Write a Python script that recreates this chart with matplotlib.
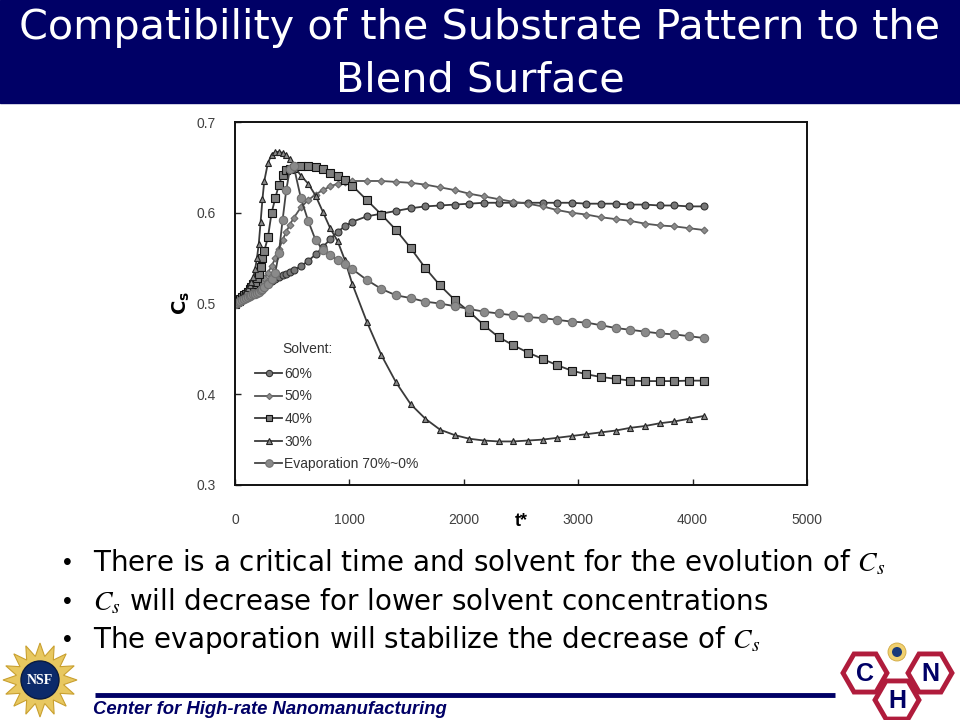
import numpy as np
import matplotlib
matplotlib.use("Agg")
import matplotlib.pyplot as plt
from matplotlib.patches import Rectangle, RegularPolygon, Circle, Polygon

plt.rcParams['font.family'] = ['Liberation Sans', 'DejaVu Sans']

# time axis (t*) shared by all series
t = [0, 16, 32, 48, 64, 80, 96, 112, 128, 144, 160, 176, 192, 208, 224, 240, 256,
     288, 320, 352, 384, 416, 448, 480, 512,
     576, 640, 704, 768, 832, 896, 960,
     1024, 1152, 1280, 1408, 1536, 1664, 1792, 1920, 2048, 2176, 2304, 2432, 2560,
     2688, 2816, 2944, 3072, 3200, 3328, 3456, 3584, 3712, 3840, 3968, 4096]

cs_60 = [0.500, 0.502, 0.504, 0.505, 0.507, 0.508, 0.510, 0.511, 0.512, 0.513, 0.514, 0.515, 0.517, 0.518, 0.519, 0.520, 0.521,
         0.523, 0.525, 0.527, 0.529, 0.531, 0.533, 0.535, 0.537,
         0.541, 0.547, 0.554, 0.562, 0.571, 0.579, 0.585,
         0.590, 0.596, 0.599, 0.602, 0.605, 0.607, 0.608, 0.609, 0.610, 0.611, 0.611, 0.611, 0.611,
         0.611, 0.611, 0.611, 0.610, 0.610, 0.610, 0.609, 0.609, 0.608, 0.608, 0.607, 0.607]

cs_50 = [0.500, 0.501, 0.503, 0.504, 0.505, 0.507, 0.508, 0.510, 0.511, 0.513, 0.515, 0.517, 0.519, 0.521, 0.523, 0.525, 0.528,
         0.534, 0.541, 0.550, 0.560, 0.570, 0.579, 0.587, 0.594,
         0.606, 0.614, 0.620, 0.625, 0.629, 0.632, 0.634,
         0.635, 0.635, 0.635, 0.634, 0.633, 0.631, 0.628, 0.625, 0.621, 0.618, 0.615, 0.612, 0.610,
         0.607, 0.603, 0.600, 0.598, 0.595, 0.593, 0.591, 0.588, 0.586, 0.585, 0.583, 0.581]

cs_40 = [0.500, 0.502, 0.503, 0.505, 0.507, 0.509, 0.511, 0.513, 0.516, 0.518, 0.521, 0.524, 0.528, 0.532, 0.540, 0.550, 0.558,
         0.573, 0.600, 0.616, 0.631, 0.642, 0.647, 0.648, 0.649,
         0.651, 0.651, 0.650, 0.648, 0.644, 0.640, 0.636,
         0.630, 0.614, 0.598, 0.581, 0.561, 0.539, 0.520, 0.504, 0.491, 0.476, 0.463, 0.454, 0.446,
         0.439, 0.432, 0.426, 0.422, 0.419, 0.417, 0.415, 0.4145, 0.4145, 0.4145, 0.415, 0.415]

cs_30 = [0.500, 0.502, 0.504, 0.506, 0.508, 0.511, 0.514, 0.517, 0.520, 0.524, 0.529, 0.538, 0.550, 0.566, 0.590, 0.615, 0.635,
         0.655, 0.664, 0.667, 0.667, 0.666, 0.664, 0.659, 0.652,
         0.641, 0.632, 0.619, 0.601, 0.583, 0.569, 0.548,
         0.522, 0.480, 0.443, 0.413, 0.389, 0.373, 0.361, 0.355, 0.351, 0.349, 0.348, 0.348, 0.349,
         0.350, 0.352, 0.354, 0.356, 0.358, 0.360, 0.363, 0.365, 0.368, 0.370, 0.373, 0.376]

cs_evap = [0.500, 0.501, 0.502, 0.503, 0.504, 0.505, 0.506, 0.507, 0.508, 0.509, 0.510, 0.511, 0.512, 0.513, 0.515, 0.516, 0.518,
           0.522, 0.527, 0.534, 0.556, 0.592, 0.625, 0.648, 0.652,
           0.616, 0.591, 0.570, 0.559, 0.553, 0.548, 0.543,
           0.538, 0.526, 0.516, 0.509, 0.506, 0.502, 0.500, 0.497, 0.494, 0.491, 0.489, 0.487, 0.485,
           0.484, 0.482, 0.480, 0.479, 0.476, 0.473, 0.471, 0.469, 0.467, 0.466, 0.464, 0.462]

labels = ["60%", "50%", "40%", "30%", "Evaporation 70%~0%"]
x_ticks = [0, 1000, 2000, 3000, 4000, 5000]
y_ticks = [0.3, 0.4, 0.5, 0.6, 0.7]

bullets = ["There is a critical time and solvent for the evolution of $C_s$",
           "$C_s$ will decrease for lower solvent concentrations",
           "The evaporation will stabilize the decrease of $C_s$"]

navy = "#000066"
W, H = 960, 720
fig = plt.figure(figsize=(9.6, 7.2), dpi=100)

# slide background in pixel coordinates
bg = fig.add_axes([0, 0, 1, 1], zorder=0)
bg.set_xlim(0, W)
bg.set_ylim(H, 0)
bg.axis("off")

wide = ["DejaVu Sans"]  # the slide is stretched sideways, a wider face fits better
bg.add_patch(Rectangle((0, 0), W, 103, color=navy))
bg.text(480, 28, "Compatibility of the Substrate Pattern to the", color="white",
        fontsize=29.8, ha="center", va="center", family=wide)
bg.text(480, 80, "Blend Surface", color="white", fontsize=29.8, ha="center", va="center", family=wide)

for i, b in enumerate(bullets):
    y = 563 + i * 38.5
    bg.text(63, y, "\u2022", fontsize=18, ha="left", va="center")
    bg.text(93, y, b, fontsize=20, ha="left", va="center", family=wide, math_fontfamily="stix")

# footer
bg.plot([95, 835], [695, 695], color=navy, lw=3.5, solid_capstyle="butt")
bg.text(93, 709, "Center for High-rate Nanomanufacturing", color=navy, fontsize=13.3,
        fontweight="bold", fontstyle="italic", ha="left", va="center")

# NSF logo (simplified)
star = []
for k in range(32):
    r = 37 if k % 2 == 0 else 24
    a = np.pi * k / 16
    star.append((40 + r * np.cos(a), 680 + r * np.sin(a)))
bg.add_patch(Polygon(star, closed=True, facecolor="#e8c860", edgecolor="#c9a030", lw=0.8))
bg.add_patch(Circle((40, 680), 19, facecolor="#0c2a6a", edgecolor="#0a1a40"))
bg.text(40, 681, "NSF", color="white", fontsize=10, fontweight="bold", ha="center", va="center",
        family="Liberation Serif")

# CHN logo (simplified)
for (cx, cy, letter) in [(865, 673, "C"), (930, 673, "N"), (897, 700, "H")]:
    bg.add_patch(RegularPolygon((cx, cy), 6, radius=22, orientation=np.pi / 6,
                                facecolor="white", edgecolor="#b01c3c", lw=3.5))
    bg.text(cx, cy + 1, letter, color=navy, fontsize=18, fontweight="bold", ha="center", va="center")
bg.add_patch(Circle((897, 652), 9, facecolor="#f0d070", edgecolor="#d0a840", lw=0.6))
bg.add_patch(Circle((897, 652), 5, facecolor="#1a3a7a"))

# chart
ax = fig.add_axes([235 / W, 1 - 485 / H, 572 / W, 363 / H], zorder=2)
line_c = "#3a3a3a"
styles = [
    dict(marker="o", ms=5, mfc="#777777", mec="#333333", color=line_c),
    dict(marker="D", ms=3.5, mfc="#8c8c8c", mec="#6a6a6a", color="#555555"),
    dict(marker="s", ms=5.5, mfc="#7f7f7f", mec="#111111", color=line_c),
    dict(marker="^", ms=5, mfc="#8a8a8a", mec="#222222", color=line_c),
    dict(marker="o", ms=6, mfc="#8a8a8a", mec="#707070", color="#444444"),
]
series = [cs_60, cs_50, cs_40, cs_30, cs_evap]
for ys, st, lab in zip(series, styles, labels):
    ax.plot(t, ys, lw=1.3, mew=0.8, label=lab, **st)

ax.set_xlim(0, 5000)
ax.set_ylim(0.3, 0.7)
ax.set_xticks(x_ticks)
ax.set_yticks(y_ticks)
ax.set_yticklabels([f"{v:.1f}" for v in y_ticks])
ax.tick_params(direction="in", length=4, width=1, colors="#222222", labelcolor="#404040", labelsize=10)
ax.tick_params(axis="y", pad=14)
ax.tick_params(axis="x", pad=20)
for s in ax.spines.values():
    s.set_linewidth(1.4)
    s.set_color("#111111")

fig.text(521 / W, 1 - 521 / H, "t*", fontsize=13, fontweight="bold", ha="center", va="center")
fig.text(181 / W, 1 - 303 / H, r"$\mathbf{C_s}$", fontsize=14, rotation=90, ha="center", va="center",
         math_fontfamily="dejavusans")

leg = ax.legend(loc="lower left", bbox_to_anchor=(0.035, 0.038), frameon=False, fontsize=10,
                handlelength=1.95, handletextpad=0.15, labelspacing=0.62, borderpad=0,
                borderaxespad=0, markerscale=0.9)
for txt in leg.get_texts():
    txt.set_color("#333333")
ax.text(0.082, 0.375, "Solvent:", fontsize=10, color="#333333", ha="left", va="center",
        transform=ax.transAxes)

fig.savefig("out.png", dpi=100)
